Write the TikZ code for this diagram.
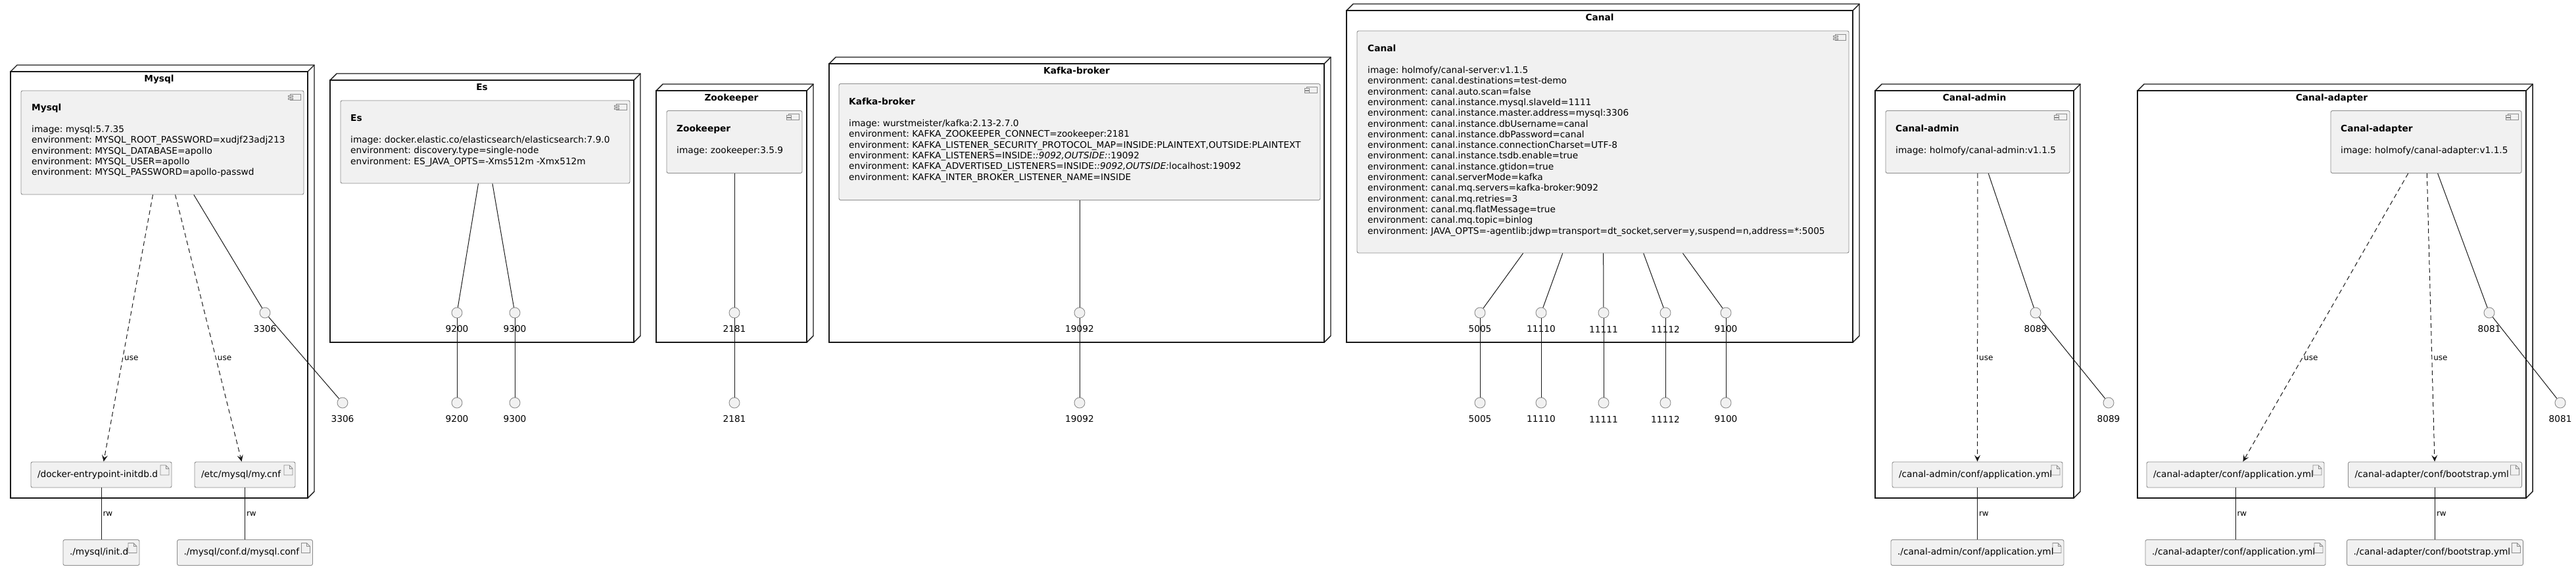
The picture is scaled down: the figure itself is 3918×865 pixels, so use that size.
\documentclass[tikz,border=0pt]{standalone}
\usepackage{fontspec}
\setmainfont{DejaVu Sans}
\frenchspacing
\usetikzlibrary{arrows.meta}
\definecolor{boxfill}{HTML}{F1F1F1}
\definecolor{boxline}{HTML}{8C8C8C}
\definecolor{ink}{HTML}{181818}
% 3d node box: name, x1, y1, x2, y2, title
\newcommand{\dnode}[6]{
  \draw[nodeline] (#2,#3) rectangle (#4,#5);
  \draw[nodeline] (#2,#3) -- (#2+10,#3-10) -- (#4+10,#3-10) -- (#4+10,#5-10) -- (#4,#5);
  \draw[nodeline] (#4,#3) -- (#4+10,#3-10);
  \node[ntitle, anchor=base] (#1) at ({(#2+#4)/2},#3+15.5) {#6};
}
% component text: name, x, title y, title, lines
\newcommand{\ctext}[5]{
  \node[ctitle, anchor=base west] (#1t) at (#2,#3+4.5) {#4};
  \node[cbody, anchor=north west] (#1b) at (#2,#3+26.9) {#5};
}
% port circle with its number below: name, x, y, number
\newcommand{\port}[4]{
  \node[port] (#1) at (#2,#3) {};
  \node[plbl] (#1l) at (#2,#3+25) {#4};
}

\begin{document}
\begin{tikzpicture}[x=1pt, y=-1pt,
    nodeline/.style={draw=ink, line width=1.4pt},
    ntitle/.style={font=\bfseries\fontsize{13.7}{16.3}\selectfont, inner sep=0pt},
    ctitle/.style={font=\bfseries\fontsize{13.7}{16.3}\selectfont, inner sep=0pt},
    cbody/.style={font=\fontsize{13.7}{16.3}\selectfont, inner sep=0pt, align=left},
    comp/.style={draw=boxline, fill=boxfill, line width=0.9pt, rounded corners=2.5pt, inner sep=0pt,
      path picture={
        \coordinate (ne) at (path picture bounding box.north east);
        \draw[boxline, line width=0.8pt, sharp corners] ([xshift=-21pt,yshift=-5pt]ne) rectangle ([xshift=-5pt,yshift=-14pt]ne);
        \draw[boxline, fill=boxfill, line width=0.8pt, sharp corners] ([xshift=-24pt,yshift=-7pt]ne) rectangle ([xshift=-17pt,yshift=-9.5pt]ne)
          ([xshift=-24pt,yshift=-11pt]ne) rectangle ([xshift=-17pt,yshift=-13.5pt]ne);
      }},
    filebox/.style={draw=boxline, fill=boxfill, line width=0.9pt, rounded corners=2.5pt, minimum height=39pt,
      inner xsep=10pt, inner ysep=0pt, align=left, font=\fontsize{13.7}{16.3}\selectfont,
      path picture={
        \coordinate (fne) at (path picture bounding box.north east);
        \draw[boxline, line width=0.8pt, sharp corners] ([xshift=-17pt,yshift=-5pt]fne) -- ([xshift=-9pt,yshift=-5pt]fne)
          -- ([xshift=-4pt,yshift=-10pt]fne) -- ([xshift=-4pt,yshift=-20pt]fne) -- ([xshift=-17pt,yshift=-20pt]fne) -- cycle;
        \draw[boxline, line width=0.8pt, sharp corners] ([xshift=-9pt,yshift=-5pt]fne) -- ([xshift=-9pt,yshift=-10pt]fne) -- ([xshift=-4pt,yshift=-10pt]fne);
      }},
    port/.style={circle, draw=boxline, fill=boxfill, line width=0.9pt, minimum size=16pt, inner sep=0pt},
    plbl/.style={font=\fontsize{13.7}{16.3}\selectfont, inner sep=0pt},
    wire/.style={draw=ink, line width=1pt},
    usearrow/.style={wire, dash pattern=on 7pt off 5pt, -{Stealth[length=10pt, width=9pt, inset=4pt]}},
    elbl/.style={font=\fontsize{12}{14}\selectfont, inner sep=2pt, anchor=west}]

  \useasboundingbox (0,0) rectangle (3918,865);

  %%%%% NODES %%%%%
  \dnode{nMysql}{16}{109}{468}{758}{Mysql}
  \dnode{nEs}{502}{122}{964}{521}{Es}
  \dnode{nZk}{998}{138}{1227}{521}{Zookeeper}
  \dnode{nKafka}{1261}{97}{2014}{521}{Kafka-broker}
  \dnode{nCanal}{2048}{16}{2818}{521}{Canal}
  \dnode{nAdmin}{2852}{138}{3154}{758}{Canal-admin}
  \dnode{nAdapter}{3251}{138}{3842}{758}{Canal-adapter}

  %%%%% COMPONENTS %%%%%
  \node[comp, minimum width=430pt, minimum height=158pt] (mysql) at (247,217) {};
  \ctext{mysql}{48}{164}{Mysql}{image: mysql:5.7.35\\
    environment: MYSQL\_ROOT\_PASSWORD=xudjf23adj213\\
    environment: MYSQL\_DATABASE=apollo\\
    environment: MYSQL\_USER=apollo\\
    environment: MYSQL\_PASSWORD=apollo-passwd}

  \node[comp, minimum width=440pt, minimum height=126pt] (es) at (738,216) {};
  \ctext{es}{533}{180}{Es}{image: docker.elastic.co/elasticsearch/elasticsearch:7.9.0\\
    environment: discovery.type=single-node\\
    environment: ES\_JAVA\_OPTS=-Xms512m -Xmx512m}

  \node[comp, minimum width=206pt, minimum height=95pt] (zk) at (1117,216) {};
  \ctext{zk}{1029}{196}{Zookeeper}{image: zookeeper:3.5.9}

  \node[comp, minimum width=732pt, minimum height=177pt] (kafka) at (1642,216) {};
  \ctext{kafka}{1291}{155}{Kafka-broker}{image: wurstmeister/kafka:2.13-2.7.0\\
    environment: KAFKA\_ZOOKEEPER\_CONNECT=zookeeper:2181\\
    environment: KAFKA\_LISTENER\_SECURITY\_PROTOCOL\_MAP=INSIDE:PLAINTEXT,OUTSIDE:PLAINTEXT\\
    environment: KAFKA\_LISTENERS=INSIDE:\textit{:9092,OUTSIDE:}:19092\\
    environment: KAFKA\_ADVERTISED\_LISTENERS=INSIDE:\textit{:9092,OUTSIDE:}localhost:19092\\
    environment: KAFKA\_INTER\_BROKER\_LISTENER\_NAME=INSIDE}

  \node[comp, minimum width=748pt, minimum height=338pt] (canal) at (2438,216) {};
  \ctext{canal}{2080}{74}{Canal}{image: holmofy/canal-server:v1.1.5\\
    environment: canal.destinations=test-demo\\
    environment: canal.auto.scan=false\\
    environment: canal.instance.mysql.slaveId=1111\\
    environment: canal.instance.master.address=mysql:3306\\
    environment: canal.instance.dbUsername=canal\\
    environment: canal.instance.dbPassword=canal\\
    environment: canal.instance.connectionCharset=UTF-8\\
    environment: canal.instance.tsdb.enable=true\\
    environment: canal.instance.gtidon=true\\
    environment: canal.serverMode=kafka\\
    environment: canal.mq.servers=kafka-broker:9092\\
    environment: canal.mq.retries=3\\
    environment: canal.mq.flatMessage=true\\
    environment: canal.mq.topic=binlog\\
    environment: JAVA\_OPTS=-agentlib:jdwp=transport=dt\_socket,server=y,suspend=n,address=*:5005}

  \node[comp, minimum width=280pt, minimum height=95pt] (admin) at (3008,216) {};
  \ctext{admin}{2883}{196}{Canal-admin}{image: holmofy/canal-admin:v1.1.5}

  \node[comp, minimum width=290pt, minimum height=95pt] (adapter) at (3690,216) {};
  \ctext{adapter}{3560}{196}{Canal-adapter}{image: holmofy/canal-adapter:v1.1.5}

  %%%%% FILES %%%%%
  \node[filebox, text width=194pt] (fInitIn) at (154,722.5) {/docker-entrypoint-initdb.d};
  \node[filebox, text width=133pt] (fCnfIn) at (372.5,722.5) {/etc/mysql/my.cnf};
  \node[filebox, text width=96pt] (fInitOut) at (154,841) {./mysql/init.d};
  \node[filebox, text width=186pt] (fCnfOut) at (372.5,841) {./mysql/conf.d/mysql.conf};

  \node[filebox, text width=239pt] (fAdminIn) at (3007.5,722.5) {/canal-admin/conf/application.yml};
  \node[filebox, text width=243pt] (fAdminOut) at (3007.5,841) {./canal-admin/conf/application.yml};

  \node[filebox, text width=250pt] (fAppIn) at (3400,722.5) {/canal-adapter/conf/application.yml};
  \node[filebox, text width=254pt] (fAppOut) at (3400,841) {./canal-adapter/conf/application.yml};
  \node[filebox, text width=244pt] (fBootIn) at (3703.5,722.5) {/canal-adapter/conf/bootstrap.yml};
  \node[filebox, text width=248pt] (fBootOut) at (3703.5,841) {./canal-adapter/conf/bootstrap.yml};

  %%%%% PORTS %%%%%
  \port{p3306a}{403}{476}{3306}
  \port{p3306b}{521}{613}{3306}
  \port{p9200a}{695}{476}{9200}
  \port{p9200b}{695}{613}{9200}
  \port{p9300a}{783}{476}{9300}
  \port{p9300b}{783}{613}{9300}
  \port{p2181a}{1117}{476}{2181}
  \port{p2181b}{1117}{613}{2181}
  \port{p19092a}{1642}{476}{19092}
  \port{p19092b}{1642}{613}{19092}
  \port{p5005a}{2251}{476}{5005}
  \port{p5005b}{2251}{613}{5005}
  \port{p11110a}{2344}{476}{11110}
  \port{p11110b}{2344}{613}{11110}
  \port{p11111a}{2439}{476}{11111}
  \port{p11111b}{2439}{613}{11111}
  \port{p11112a}{2533}{476}{11112}
  \port{p11112b}{2533}{613}{11112}
  \port{p9100a}{2625}{476}{9100}
  \port{p9100b}{2625}{613}{9100}
  \port{p8089a}{3096}{476}{8089}
  \port{p8089b}{3207}{613}{8089}
  \port{p8081a}{3786}{476}{8081}
  \port{p8081b}{3894}{613}{8081}

  %%%%% LINKS %%%%%
  \draw[wire] (mysql) -- (p3306a);
  \draw[wire] (p3306a) -- (p3306b);
  \draw[wire] (es) -- (p9200a);
  \draw[wire] (p9200a) -- (p9200b);
  \draw[wire] (es) -- (p9300a);
  \draw[wire] (p9300a) -- (p9300b);
  \draw[wire] (zk) -- (p2181a);
  \draw[wire] (p2181a) -- (p2181b);
  \draw[wire] (kafka) -- (p19092a);
  \draw[wire] (p19092a) -- (p19092b);
  \draw[wire] (canal) -- (p5005a);
  \draw[wire] (p5005a) -- (p5005b);
  \draw[wire] (canal) -- (p11110a);
  \draw[wire] (p11110a) -- (p11110b);
  \draw[wire] (canal) -- (p11111a);
  \draw[wire] (p11111a) -- (p11111b);
  \draw[wire] (canal) -- (p11112a);
  \draw[wire] (p11112a) -- (p11112b);
  \draw[wire] (canal) -- (p9100a);
  \draw[wire] (p9100a) -- (p9100b);
  \draw[wire] (admin) -- (p8089a);
  \draw[wire] (p8089a) -- (p8089b);
  \draw[wire] (adapter) -- (p8081a);
  \draw[wire] (p8081a) -- (p8081b);

  \draw[usearrow] (mysql) -- node[elbl, pos=0.612] {use} (fInitIn);
  \draw[usearrow] (mysql) -- node[elbl, pos=0.612] {use} (fCnfIn);
  \draw[usearrow] (admin) -- node[elbl, pos=0.641] {use} (fAdminIn);
  \draw[usearrow] (adapter) -- node[elbl, pos=0.641] {use} (fAppIn);
  \draw[usearrow] (adapter) -- node[elbl, pos=0.641] {use} (fBootIn);

  \draw[wire] (fInitIn) -- node[elbl, midway] {rw} (fInitOut);
  \draw[wire] (fCnfIn) -- node[elbl, midway] {rw} (fCnfOut);
  \draw[wire] (fAdminIn) -- node[elbl, midway] {rw} (fAdminOut);
  \draw[wire] (fAppIn) -- node[elbl, midway] {rw} (fAppOut);
  \draw[wire] (fBootIn) -- node[elbl, midway] {rw} (fBootOut);

\end{tikzpicture}
\end{document}
